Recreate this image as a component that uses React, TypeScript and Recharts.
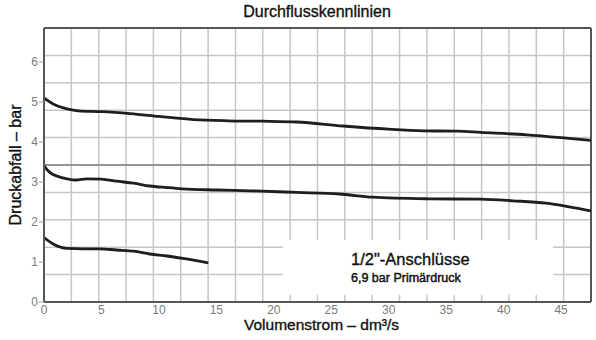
import React from 'react'
import {
  CartesianGrid,
  Label,
  Line,
  LineChart,
  ReferenceArea,
  ReferenceLine,
  XAxis,
  YAxis
} from 'recharts'

// axis ranges and ticks
const flowMax = 47.6
const dropMax = 6.85
const flowTicks = [0, 5, 10, 15, 20, 25, 30, 35, 40, 45]
const dropTicks = [0, 1, 2, 3, 4, 5, 6]

// upper curve
const flowUpper = [0, 0.8, 2, 3, 5, 7.5, 10, 13, 16, 19, 22, 26, 30, 33, 36, 38, 42, 45, 47.6]
const dropUpper = [5.1, 4.95, 4.83, 4.78, 4.76, 4.71, 4.64, 4.56, 4.53, 4.52, 4.5, 4.4, 4.32, 4.28, 4.27, 4.24, 4.18, 4.11, 4.04]

// middle curve
const flowMiddle = [0, 0.5, 1.2, 2, 2.8, 3.7, 5, 6.3, 7.8, 9.2, 10.7, 12, 15, 18, 22, 25.7, 28.6, 33.5, 38, 40.8, 43.7, 45.7, 47.6]
const dropMiddle = [3.4, 3.24, 3.14, 3.08, 3.05, 3.08, 3.07, 3.02, 2.97, 2.9, 2.86, 2.83, 2.8, 2.78, 2.74, 2.7, 2.62, 2.58, 2.57, 2.53, 2.47, 2.38, 2.28]

// lower curve
const flowLower = [0, 0.8, 2, 3.4, 4.9, 6.3, 7.8, 9.2, 10.7, 12.1, 14.3]
const dropLower = [1.61, 1.45, 1.34, 1.33, 1.33, 1.3, 1.27, 1.2, 1.15, 1.09, 0.98]

const toPoints = (xs: number[], ys: number[]) =>
  xs.map((x, i) => ({ flow: x, drop: ys[i] }))

const curves = [
  toPoints(flowUpper, dropUpper),
  toPoints(flowMiddle, dropMiddle),
  toPoints(flowLower, dropLower)
]

const font = '"Liberation Sans", Arial, Helvetica, sans-serif'
const ink = '#111'

const evenSplit = (start: number, size: number, n: number) =>
  Array.from({ length: n + 1 }, (_, i) => start + (size * i) / n)

export default function App() {
  return (
    <div
      style={{
        position: 'absolute',
        left: 0,
        top: 0,
        width: 596,
        height: 340,
        background: '#fff',
        fontFamily: font
      }}
    >
      <div
        style={{
          position: 'absolute',
          left: 0,
          width: 596,
          top: 3,
          textAlign: 'center',
          fontSize: 16,
          color: ink,
          WebkitTextStroke: '0.35px #111',
          paddingLeft: 38,
          boxSizing: 'border-box'
        }}
      >
        Durchflusskennlinien
      </div>
      <LineChart
        width={596}
        height={340}
        margin={{ top: 28, right: 5, bottom: 18, left: 14 }}
      >
        <CartesianGrid
          stroke="#c6c6c6"
          strokeWidth={1.5}
          horizontalCoordinatesGenerator={(p: any) =>
            evenSplit(p.offset.top, p.offset.height, 10)
          }
          verticalCoordinatesGenerator={(p: any) =>
            evenSplit(p.offset.left, p.offset.width, 20)
          }
        />
        <ReferenceLine y={dropMax / 2} stroke="#808080" strokeWidth={1.5} />
        <ReferenceLine y={dropMax} stroke="#555" strokeWidth={2} />
        <ReferenceLine x={flowMax} stroke="#555" strokeWidth={2} />
        <ReferenceArea
          x1={20.8}
          x2={44.3}
          y1={0.18}
          y2={1.55}
          fill="#fff"
          fillOpacity={1}
          stroke="none"
          label={(props: any) => {
            const { x, y } = props.viewBox
            return (
              <g fontFamily={font} fill={ink} stroke={ink}>
                <text x={x + 68} y={y + 25} fontSize={16.5} strokeWidth={0.35}>
                  1/2"-Anschlüsse
                </text>
                <text
                  x={x + 68}
                  y={y + 42}
                  fontSize={12.5}
                  strokeWidth={0.45}
                >
                  6,9 bar Primärdruck
                </text>
              </g>
            )
          }}
        />
        <XAxis
          type="number"
          dataKey="flow"
          domain={[0, flowMax]}
          ticks={flowTicks}
          allowDataOverflow
          height={20}
          stroke="#555"
          strokeWidth={2}
          tickLine={false}
          tickSize={3}
          tickMargin={0}
          tick={{ fill: '#7a7a7a', fontSize: 12, fontFamily: font }}
        >
          <Label
            content={(props: any) => {
              const { x, y, width } = props.viewBox
              return (
                <text
                  x={x + width / 2 + 4}
                  y={y + 28}
                  textAnchor="middle"
                  fontSize={15.5}
                  fontFamily={font}
                  fill={ink}
                  stroke={ink}
                  strokeWidth={0.35}
                >
                  Volumenstrom – dm³/s
                </text>
              )
            }}
          />
        </XAxis>
        <YAxis
          type="number"
          dataKey="drop"
          domain={[0, dropMax]}
          ticks={dropTicks}
          allowDataOverflow
          width={30}
          stroke="#555"
          strokeWidth={2}
          tickSize={5}
          tickMargin={1}
          tickLine={{ stroke: '#999', strokeWidth: 1 }}
          tick={{ fill: '#7a7a7a', fontSize: 12, fontFamily: font }}
        >
          <Label
            content={(props: any) => {
              const { y, height } = props.viewBox
              const cx = 21
              const cy = y + height / 2
              return (
                <text
                  x={cx}
                  y={cy}
                  transform={`rotate(-90, ${cx}, ${cy})`}
                  textAnchor="middle"
                  fontSize={16}
                  fontFamily={font}
                  fill={ink}
                  stroke={ink}
                  strokeWidth={0.35}
                >
                  Druckabfall – bar
                </text>
              )
            }}
          />
        </YAxis>
        {curves.map((data, i) => (
          <Line
            key={i}
            data={data}
            dataKey="drop"
            type="monotone"
            stroke="#1e1e1e"
            strokeWidth={2.8}
            dot={false}
            activeDot={false}
            isAnimationActive={false}
          />
        ))}
      </LineChart>
    </div>
  )
}
